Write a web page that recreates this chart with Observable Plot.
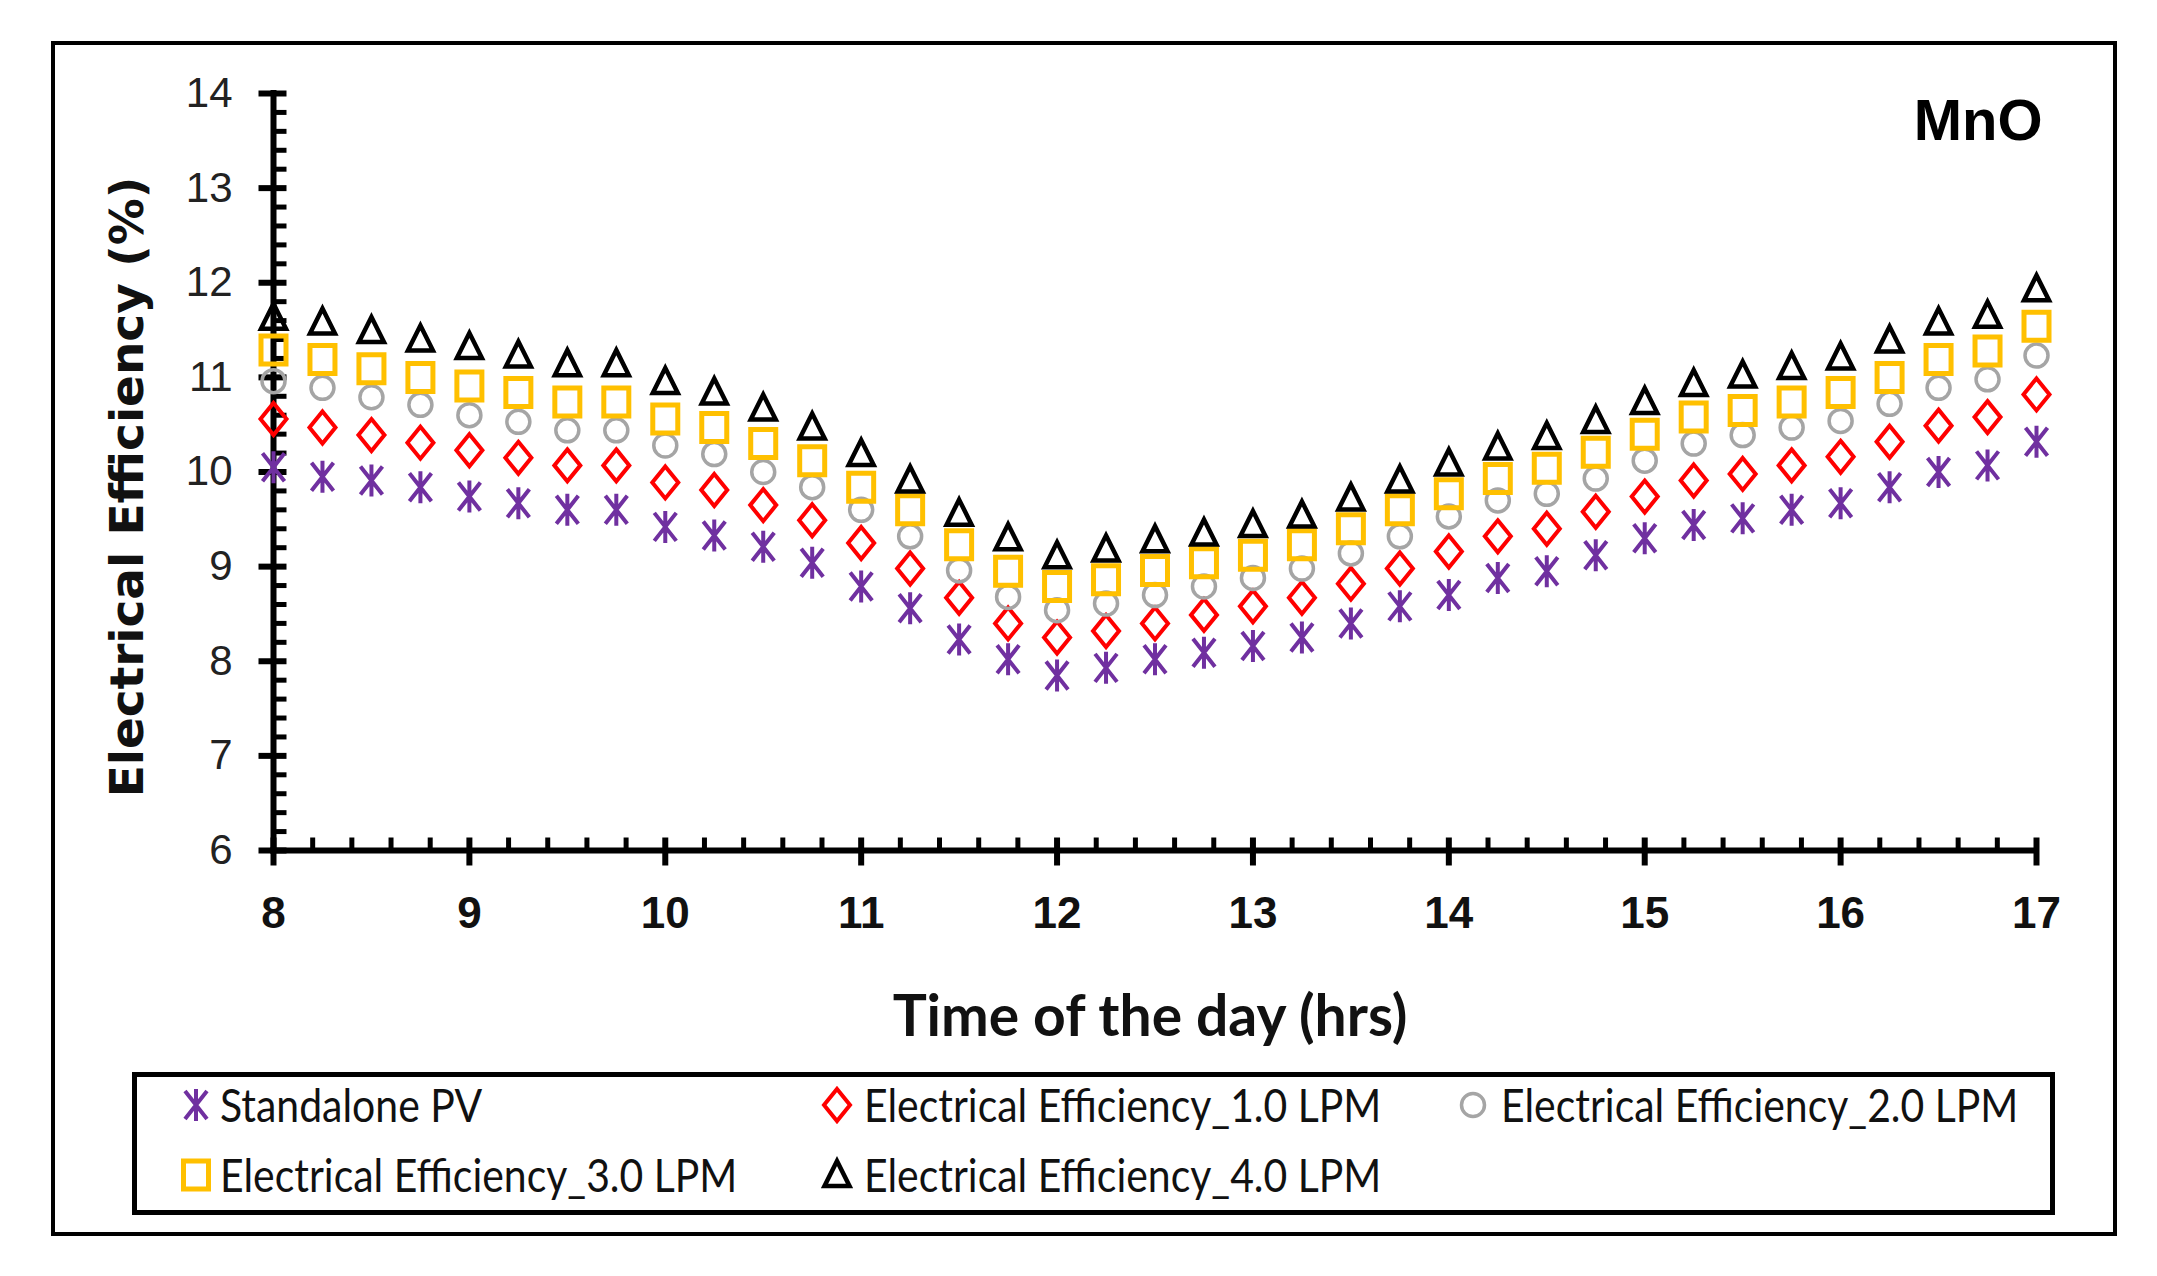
<!DOCTYPE html>
<html>
<head>
<meta charset="utf-8">
<script src="https://cdn.jsdelivr.net/npm/d3@7"></script>
<script src="https://cdn.jsdelivr.net/npm/@observablehq/plot@0.6"></script>
<style>
  body { margin: 0; background: #fff; }
  #wrap { position: relative; width: 2157px; height: 1276px; }
  #frame { position: absolute; left: 51px; top: 41px; width: 2058px; height: 1187px; border: 4px solid #000; }
  #chart { position: absolute; left: 0; top: 0; }
  #legend { position: absolute; left: 132px; top: 1072px; width: 1913px; height: 133px; border: 5px solid #000; background: #fff; }
  .item { position: absolute; transform: translateY(-50%) scaleX(0.89); transform-origin: left center; font-family: Lato, 'Liberation Sans', sans-serif; font-size: 46px; color: #111; white-space: nowrap; line-height: 1; }
  .mk { position: absolute; transform: translate(-50%, -50%); }
</style>
</head>
<body>
<div id="wrap">
  <div id="frame"></div>
  <div id="chart"></div>
  <div id="legend"></div>
</div>
<script>
// time of day (hrs)
const times = [8, 8.25, 8.5, 8.75, 9, 9.25, 9.5, 9.75, 10, 10.25, 10.5, 10.75, 11, 11.25, 11.5, 11.75, 12,
  12.25, 12.5, 12.75, 13, 13.25, 13.5, 13.75, 14, 14.25, 14.5, 14.75, 15, 15.25, 15.5, 15.75, 16, 16.25, 16.5, 16.75, 17]

// electrical efficiency (%)
const standalone = [10.05, 9.95, 9.91, 9.84, 9.74, 9.67, 9.60, 9.60, 9.42, 9.33, 9.21, 9.04, 8.79, 8.56, 8.23, 8.02, 7.85,
  7.93, 8.02, 8.09, 8.16, 8.25, 8.40, 8.58, 8.70, 8.88, 8.95, 9.12, 9.30, 9.44, 9.51, 9.60, 9.67, 9.84, 10.00, 10.07, 10.32]
const lpm1 = [10.56, 10.47, 10.39, 10.31, 10.23, 10.15, 10.07, 10.07, 9.89, 9.81, 9.65, 9.49, 9.25, 8.98, 8.67, 8.40, 8.25,
  8.32, 8.40, 8.49, 8.58, 8.67, 8.82, 8.98, 9.16, 9.32, 9.40, 9.58, 9.74, 9.91, 9.98, 10.07, 10.16, 10.32, 10.49, 10.58, 10.82]
const lpm2 = [10.96, 10.89, 10.79, 10.71, 10.60, 10.53, 10.44, 10.44, 10.28, 10.19, 10.00, 9.84, 9.60, 9.32, 8.96, 8.68, 8.54,
  8.61, 8.70, 8.79, 8.88, 8.98, 9.14, 9.32, 9.53, 9.70, 9.77, 9.93, 10.12, 10.30, 10.39, 10.47, 10.54, 10.72, 10.89, 10.98, 11.23]
const lpm3 = [11.29, 11.19, 11.09, 11.00, 10.91, 10.84, 10.74, 10.74, 10.56, 10.47, 10.30, 10.12, 9.84, 9.60, 9.23, 8.95, 8.79,
  8.86, 8.96, 9.04, 9.12, 9.23, 9.40, 9.60, 9.77, 9.93, 10.04, 10.21, 10.40, 10.58, 10.65, 10.74, 10.84, 11.00, 11.19, 11.28, 11.54]
const lpm4 = [11.63, 11.58, 11.49, 11.40, 11.32, 11.23, 11.14, 11.14, 10.95, 10.84, 10.67, 10.47, 10.19, 9.91, 9.56, 9.30, 9.11,
  9.18, 9.28, 9.35, 9.44, 9.54, 9.72, 9.91, 10.09, 10.26, 10.37, 10.54, 10.74, 10.93, 11.02, 11.11, 11.21, 11.39, 11.58, 11.65, 11.93]

const seriesNames = ["Standalone PV", "Electrical Efficiency_1.0 LPM", "Electrical Efficiency_2.0 LPM",
  "Electrical Efficiency_3.0 LPM", "Electrical Efficiency_4.0 LPM"]

const xTicks = [8, 9, 10, 11, 12, 13, 14, 15, 16, 17]
const yTicks = [6, 7, 8, 9, 10, 11, 12, 13, 14]

// minor ticks every 0.2
const xMinor = d3.range(8, 17, 0.2).map(v => +v.toFixed(1)).filter(v => v % 1 != 0)
const yMinor = d3.range(6, 14, 0.2).map(v => +v.toFixed(1)).filter(v => v % 1 != 0)

// marker shapes, slightly taller than wide like the excel ones
const starSym = {draw(c) { c.moveTo(0, -16); c.lineTo(0, 16); c.moveTo(-11, -14); c.lineTo(11, 14); c.moveTo(11, -14); c.lineTo(-11, 14) }}
const diamondSym = {draw(c) { c.moveTo(0, -16); c.lineTo(13, 0); c.lineTo(0, 16); c.lineTo(-13, 0); c.closePath() }}
const circleSym = {draw(c) { c.moveTo(11.5, 0); c.arc(0, 0, 11.5, 0, 2 * Math.PI) }}
const squareSym = {draw(c) { c.moveTo(-12.5, -14); c.lineTo(12.5, -14); c.lineTo(12.5, 14); c.lineTo(-12.5, 14); c.closePath() }}
const triangleSym = {draw(c) { c.moveTo(0, -14); c.lineTo(12.5, 11); c.lineTo(-12.5, 11); c.closePath() }}

const yMajorTick = {draw(c) { c.moveTo(-15, 0); c.lineTo(13, 0) }}
const yMinorTick = {draw(c) { c.moveTo(0, 0); c.lineTo(13, 0) }}
const xMajorTick = {draw(c) { c.moveTo(0, -13); c.lineTo(0, 15) }}
const xMinorTick = {draw(c) { c.moveTo(0, -13); c.lineTo(0, 0) }}

const styles = [
  {values: standalone, symbol: starSym, stroke: "#7030A0", sw: 4},
  {values: lpm1, symbol: diamondSym, stroke: "#FF0000", sw: 4},
  {values: lpm2, symbol: circleSym, stroke: "#A5A5A5", sw: 3.5},
  {values: lpm3, symbol: squareSym, stroke: "#FFC000", sw: 5},
  {values: lpm4, symbol: triangleSym, stroke: "#000000", sw: 4.5},
]

const sans = "'Liberation Sans', sans-serif"

const chart = Plot.plot({
  width: 2157,
  height: 1050,
  marginLeft: 273,
  marginRight: 121,
  marginTop: 93,
  marginBottom: 200,
  x: {domain: [8, 17]},
  y: {domain: [6, 14]},
  marks: [
    Plot.ruleX([8], {y1: 6, y2: 14, strokeWidth: 6, strokeLinecap: "square"}),
    Plot.ruleY([6], {x1: 8, x2: 17, strokeWidth: 6, strokeLinecap: "square"}),
    Plot.dot(yTicks, {x: 8, y: d => d, symbol: yMajorTick, stroke: "black", strokeWidth: 6, fill: "none"}),
    Plot.dot(yMinor, {x: 8, y: d => d, symbol: yMinorTick, stroke: "black", strokeWidth: 5, fill: "none"}),
    Plot.dot(xTicks, {x: d => d, y: 6, symbol: xMajorTick, stroke: "black", strokeWidth: 6, fill: "none"}),
    Plot.dot(xMinor, {x: d => d, y: 6, symbol: xMinorTick, stroke: "black", strokeWidth: 5, fill: "none"}),
    Plot.axisY({ticks: yTicks, tickSize: 0, tickPadding: 41, fontSize: 42, fontFamily: sans, color: "#222", label: null}),
    Plot.axisX({ticks: xTicks, tickSize: 0, tickPadding: 46, fontSize: 44, fontWeight: "bold", fontFamily: sans, color: "#111", label: null}),
    ...styles.map(s => Plot.dot(times, {
      x: d => d,
      y: (d, i) => s.values[i],
      symbol: s.symbol,
      stroke: s.stroke,
      strokeWidth: s.sw,
      fill: "none"
    })),
    Plot.text(["Time of the day (hrs)"], {frameAnchor: "bottom", dy: 167, dx: -5, lineAnchor: "middle",
      fontSize: 57, fontWeight: "bold", fontFamily: "Lato, 'Liberation Sans', sans-serif", fill: "#111"}),
    Plot.text(["Electrical Efficiency (%)"], {frameAnchor: "left", dx: -146, dy: 15, rotate: -90, lineAnchor: "middle",
      textAnchor: "middle", fontSize: 47, fontWeight: "bold", fontFamily: "'DejaVu Sans', sans-serif", fill: "#111"}),
    Plot.text(["MnO"], {frameAnchor: "top-right", dx: 6, dy: 28, textAnchor: "end", lineAnchor: "middle",
      fontSize: 58, fontWeight: "bold", fontFamily: sans, fill: "#000"}),
  ]
})
d3.select('#chart').append(() => chart)

// legend, two rows, three columns like excel
const legendPos = [
  {mx: 59, tx: 83, y: 28},
  {mx: 700, tx: 727, y: 28},
  {mx: 1336, tx: 1364, y: 28},
  {mx: 59, tx: 83, y: 98},
  {mx: 700, tx: 727, y: 98},
]
const legend = d3.select('#legend')
styles.forEach((s, i) => {
  const p = legendPos[i]
  const svg = legend.append('svg').attr('class', 'mk').attr('width', 40).attr('height', 40)
    .style('left', p.mx + 'px').style('top', p.y + 'px')
  svg.append('path').attr('transform', 'translate(20,20)')
    .attr('d', d3.symbol(s.symbol)())
    .attr('fill', 'none').attr('stroke', s.stroke).attr('stroke-width', s.sw)
  legend.append('div').attr('class', 'item').style('left', p.tx + 'px').style('top', p.y + 'px').text(seriesNames[i])
})
</script>
</body>
</html>
